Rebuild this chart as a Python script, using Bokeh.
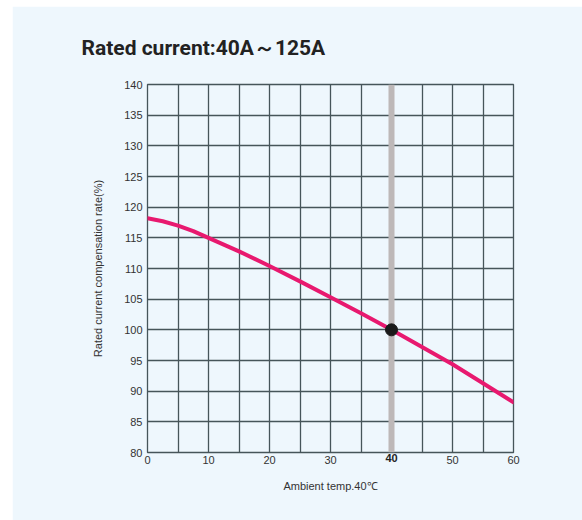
from bokeh.plotting import figure
from bokeh.models import FixedTicker, LinearAxis, Range1d, Title
from bokeh.embed import file_html
from bokeh.resources import INLINE

# data
temps = [0, 2.5, 5, 7.5, 10, 15, 20, 25, 30, 35, 40, 45, 50, 55, 60]
rates = [118.2, 117.7, 117.0, 116.1, 115.0, 112.8, 110.4, 107.9, 105.3, 102.7, 100.0, 97.2, 94.4, 91.3, 88.2]
x_ticks = [0, 10, 20, 30, 50, 60]
x_highlight = 40
y_highlight = 100
grid_x = list(range(0, 61, 5))
grid_y = list(range(80, 141, 5))
title_text = "Rated current:40A\uff5e125A"
x_label = "Ambient temp.40\u2103"
y_label = "Rated current compensation rate(%)"

BG = "#eef7fd"
GRID = "#46555a"
LABEL_FONT = "Liberation Sans"

p = figure(width=570, height=514, output_backend="svg", toolbar_location=None,
           x_range=Range1d(0, 60), y_range=Range1d(80, 140),
           min_border_left=135, min_border_right=69, min_border_top=78, min_border_bottom=68,
           margin=(6, 0, 0, 12))
p.background_fill_color = BG
p.border_fill_color = BG
p.outline_line_color = GRID
p.outline_line_width = 1.3

p.xgrid.ticker = FixedTicker(ticks=grid_x)
p.ygrid.ticker = FixedTicker(ticks=grid_y)
for g in (p.xgrid, p.ygrid):
    g.grid_line_color = GRID
    g.grid_line_width = 1.3
    g.grid_line_alpha = 1.0

# bold axis for the highlighted temperature (stacked below, pulled up to the same row)
bold_axis = LinearAxis(ticker=FixedTicker(ticks=[x_highlight]), axis_label=x_label)
p.add_layout(bold_axis, "below")

p.xaxis[0].ticker = FixedTicker(ticks=x_ticks)
p.yaxis.ticker = FixedTicker(ticks=grid_y)
for ax in (p.xaxis[0], bold_axis, p.yaxis[0]):
    ax.axis_line_color = None
    ax.major_tick_line_color = None
    ax.minor_tick_line_color = None
    ax.major_tick_out = 0
    ax.major_tick_in = 0
    ax.minor_tick_out = 0
    ax.minor_tick_in = 0
    ax.major_label_text_font = LABEL_FONT
    ax.major_label_text_font_size = "11px"
    ax.major_label_text_color = "#333333"
    ax.axis_label_text_font = LABEL_FONT
    ax.axis_label_text_font_size = "11px"
    ax.axis_label_text_font_style = "normal"
    ax.axis_label_text_color = "#333333"
p.xaxis[0].major_label_standoff = 3
bold_axis.major_label_standoff = -13
bold_axis.major_label_text_font_style = "bold"
bold_axis.major_label_text_color = "#222222"
bold_axis.axis_label_standoff = 15
p.yaxis[0].axis_label = y_label
p.yaxis[0].major_label_standoff = 5
p.yaxis[0].axis_label_standoff = 17

# highlight band
p.line(x=[x_highlight, x_highlight], y=[80, 140], line_color="#bdb8b8", line_width=6)
# curve
p.line(x=temps, y=rates, line_color="#e8196f", line_width=4, line_join="round", line_cap="round")
# dot
p.scatter(x=[x_highlight], y=[y_highlight], size=12, fill_color="#1b1b1b", line_color="#1b1b1b")

t = Title(text=title_text, text_font="Roboto", text_font_size="21px",
          text_font_style="bold", text_color="#222222",
          align="left", offset=-66, standoff=50)
p.add_layout(t, "above")

open("out.html", "w").write(file_html(p, INLINE))
